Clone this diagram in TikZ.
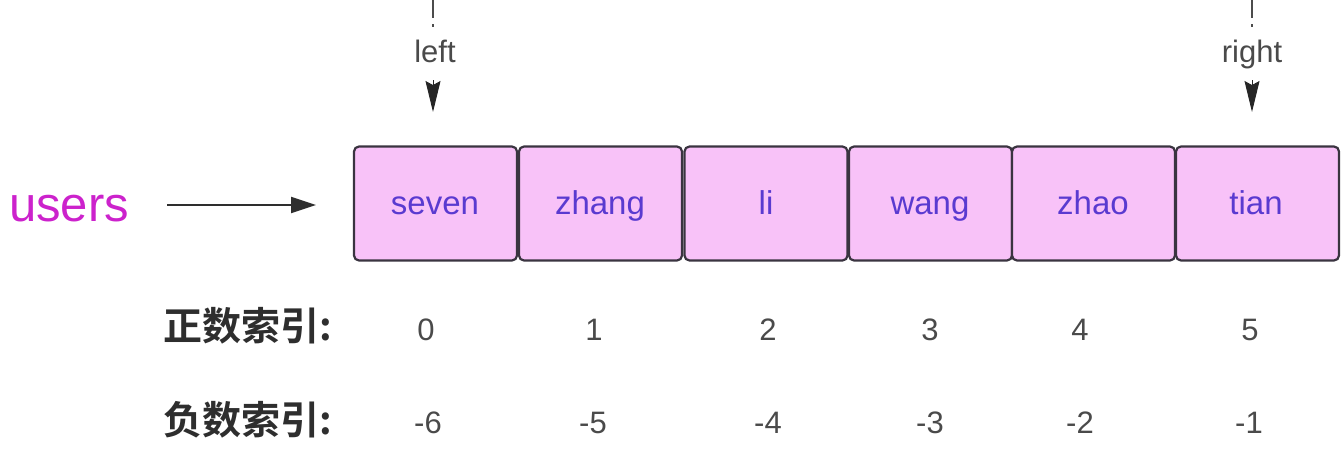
\documentclass[tikz,border=0pt]{standalone}
\usepackage{fontspec}
\setmainfont{Liberation Sans}
\newfontfamily\cjk{Noto Sans CJK SC}[BoldFont={* Bold}]
\usetikzlibrary{arrows.meta}
\definecolor{boxfill}{HTML}{F8C2F8}
\definecolor{boxdraw}{HTML}{3A3440}
\definecolor{boxtext}{HTML}{5A3AD0}
\definecolor{usercol}{HTML}{CC22CC}
\definecolor{gtext}{HTML}{4A4A4A}
\tikzset{
  cell/.style={draw=boxdraw, fill=boxfill, line width=2.2pt, rounded corners=5pt,
    minimum width=163pt, minimum height=114pt, inner sep=0pt},
  celltext/.style={font=\fontsize{33}{36}\selectfont, text=boxtext, inner sep=0pt, anchor=base},
  idx/.style={font=\fontsize{31}{36}\selectfont, text=gtext, inner sep=0pt, anchor=base},
  rowlab/.style={font=\cjk\bfseries\fontsize{39}{44}\selectfont, text=black!82, inner sep=0pt, anchor=base west},
  ptr/.style={font=\fontsize{31}{36}\selectfont, text=gtext, inner sep=0pt, anchor=base},
  ptrline/.style={draw=black!70, line width=2.6pt, dash pattern=on 19pt off 6pt on 2.5pt off 20pt},
  ptrhead/.style={draw=black!85, line width=1pt, -{Stealth[length=31pt,width=15pt,inset=4pt]}},
}
\begin{document}
\begin{tikzpicture}[x=1pt,y=-1pt]
\useasboundingbox (0,0) rectangle (1342,458);
% cells
\node[cell] (c0) at (435.5,203.5) {};
\node[cell] (c1) at (600.5,203.5) {};
\node[cell] (c2) at (766,203.5) {};
\node[cell] (c3) at (930.5,203.5) {};
\node[cell] (c4) at (1093.5,203.5) {};
\node[cell] (c5) at (1257.5,203.5) {};
\node[celltext] (t0) at (435,214) {seven};
\node[celltext] (t1) at (600,214) {zhang};
\node[celltext] (t2) at (766,214) {li};
\node[celltext] (t3) at (930,214) {wang};
\node[celltext] (t4) at (1093,214) {zhao};
\node[celltext] (t5) at (1256,214) {tian};
% users
\node[font=\fontsize{49}{54}\selectfont, text=usercol, inner sep=0pt, anchor=base] (users) at (69,221) {users};
\coordinate (ua) at (167,205);
\coordinate (ub) at (316,205);
\draw[draw=black!82, line width=2pt, -{Triangle[length=25pt,width=16pt]}] (ua) -- (ub);
% pointers
\coordinate (ltop) at (433,-1);
\coordinate (lmid) at (433,30);
\coordinate (lhs) at (433,80);
\coordinate (lend) at (433,112);
\draw[ptrline] (ltop) -- (lmid);
\node[ptr] (left) at (435,62) {left};
\draw[ptrhead] (lhs) -- (lend);
\coordinate (rtop) at (1252,-1);
\coordinate (rmid) at (1252,30);
\coordinate (rhs) at (1252,80);
\coordinate (rend) at (1252,112);
\draw[ptrline] (rtop) -- (rmid);
\node[ptr] (right) at (1252,62) {right};
\draw[ptrhead] (rhs) -- (rend);
% row labels
\node[rowlab] (pos) at (163,340) {正数索引:};
\node[rowlab] (neg) at (163,434) {负数索引:};
% indices
\node[idx] (p0) at (426,340) {0};
\node[idx] (p1) at (594,340) {1};
\node[idx] (p2) at (768,340) {2};
\node[idx] (p3) at (930,340) {3};
\node[idx] (p4) at (1080,340) {4};
\node[idx] (p5) at (1250,340) {5};
\node[idx] (n0) at (428,433) {-6};
\node[idx] (n1) at (593,433) {-5};
\node[idx] (n2) at (768,433) {-4};
\node[idx] (n3) at (930,433) {-3};
\node[idx] (n4) at (1080,433) {-2};
\node[idx] (n5) at (1249,433) {-1};
\end{tikzpicture}
\end{document}
